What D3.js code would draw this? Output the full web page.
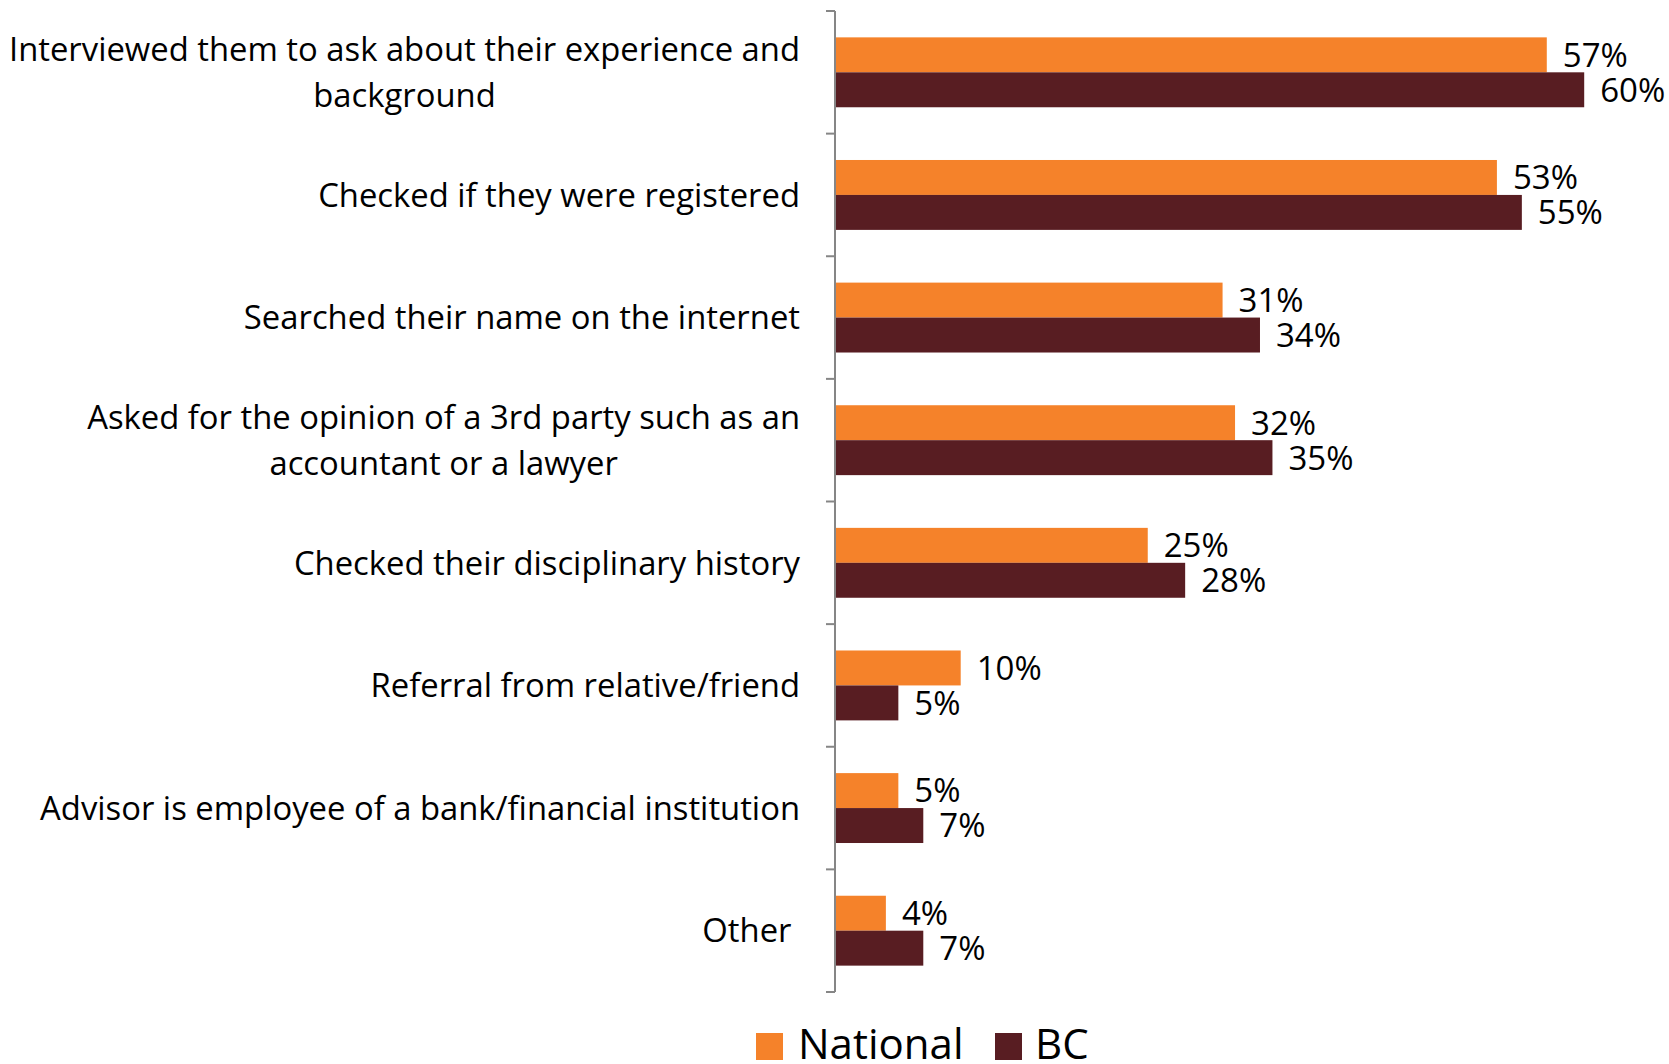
<!DOCTYPE html>
<html>
<head>
<meta charset="utf-8">
<script src="https://cdn.jsdelivr.net/npm/d3@7"></script>
<style>
  html, body { margin: 0; padding: 0; background: #fff; }
  svg { display: block; font-family: "Open Sans", sans-serif; }
</style>
</head>
<body>
<svg id="chart" width="1669" height="1064"></svg>
<script>
// Methods used to check an advisor, National vs BC (percent of respondents)
const categories = [
  ["Interviewed them to ask about their experience and", "background"],
  ["Checked if they were registered"],
  ["Searched their name on the internet"],
  ["Asked for the opinion of a 3rd party such as an", "accountant or a lawyer"],
  ["Checked their disciplinary history"],
  ["Referral from relative/friend"],
  ["Advisor is employee of a bank/financial institution"],
  ["Other "]
];
const seriesNames = ["National", "BC"];
const nationalValues = [57, 53, 31, 32, 25, 10, 5, 4];
const bcValues = [60, 55, 34, 35, 28, 5, 7, 7];
const colors = ["#F5822A", "#581D22"];

const svg = d3.select("#chart");
const keys = categories.map((c, i) => i);

const x = d3.scaleLinear().domain([0, 100]).range([836, 2083]);
const y = d3.scaleBand().domain(keys).range([11, 992])
  .paddingInner(0.43).paddingOuter(0.215);
const ySub = d3.scaleBand().domain(seriesNames).range([0, y.bandwidth()]);
const color = d3.scaleOrdinal().domain(seriesNames).range(colors);

const rows = keys.map(i => ({
  i,
  values: [
    { name: "National", v: nationalValues[i] },
    { name: "BC", v: bcValues[i] }
  ]
}));

// bars
const groups = svg.append("g").selectAll("g").data(rows).join("g")
  .attr("transform", d => `translate(0,${y(d.i)})`);

groups.selectAll("rect").data(d => d.values).join("rect")
  .attr("x", x(0))
  .attr("y", d => ySub(d.name))
  .attr("width", d => x(d.v) - x(0))
  .attr("height", ySub.bandwidth())
  .attr("fill", d => color(d.name));

groups.selectAll("text").data(d => d.values).join("text")
  .attr("x", d => x(d.v) + 16)
  .attr("y", d => ySub(d.name) + ySub.bandwidth() / 2)
  .attr("dy", "0.36em")
  .attr("font-size", 33)
  .attr("fill", "#000")
  .text(d => d.v + "%");

// category axis: vertical line with ticks between categories
const step = y.step();
const y0 = y.range()[0];
const axisX = 835;
const axis = svg.append("g").attr("stroke", "#868686").attr("stroke-width", 2);
axis.append("line")
  .attr("x1", axisX).attr("x2", axisX)
  .attr("y1", y0).attr("y2", y.range()[1]);
axis.selectAll("line.tick").data(d3.range(categories.length + 1)).join("line")
  .attr("class", "tick")
  .attr("x1", axisX - 9).attr("x2", axisX)
  .attr("y1", d => y0 + d * step).attr("y2", d => y0 + d * step);

// category labels: block right-aligned to the axis, lines centred within it
const lineGap = 46;
const labelRight = 800;
svg.append("g").selectAll("text").data(rows).join("text")
  .attr("text-anchor", "middle")
  .attr("font-size", 32.8)
  .attr("fill", "#000")
  .style("white-space", "pre")
  .each(function(d) {
    const lines = categories[d.i];
    const cy = y0 + (d.i + 0.5) * step;
    const start = cy - (lines.length - 1) * lineGap / 2;
    const t = d3.select(this);
    const spans = t.selectAll("tspan").data(lines).join("tspan")
      .attr("y", (l, k) => start + k * lineGap)
      .attr("dy", "0.36em")
      .text(l => l);
    const widest = d3.max(spans.nodes(), n => n.getComputedTextLength());
    spans.attr("x", labelRight - widest / 2);
  });

// legend
const legend = svg.append("g");
const legendItems = [
  { name: "National", sx: 756, tx: 798 },
  { name: "BC", sx: 995, tx: 1035 }
];
legend.selectAll("rect").data(legendItems).join("rect")
  .attr("x", d => d.sx).attr("y", 1033)
  .attr("width", 27).attr("height", 27)
  .attr("fill", d => color(d.name));
legend.selectAll("text").data(legendItems).join("text")
  .attr("x", d => d.tx).attr("y", 1059)
  .attr("font-size", 42)
  .attr("fill", "#000")
  .text(d => d.name);
</script>
</body>
</html>
